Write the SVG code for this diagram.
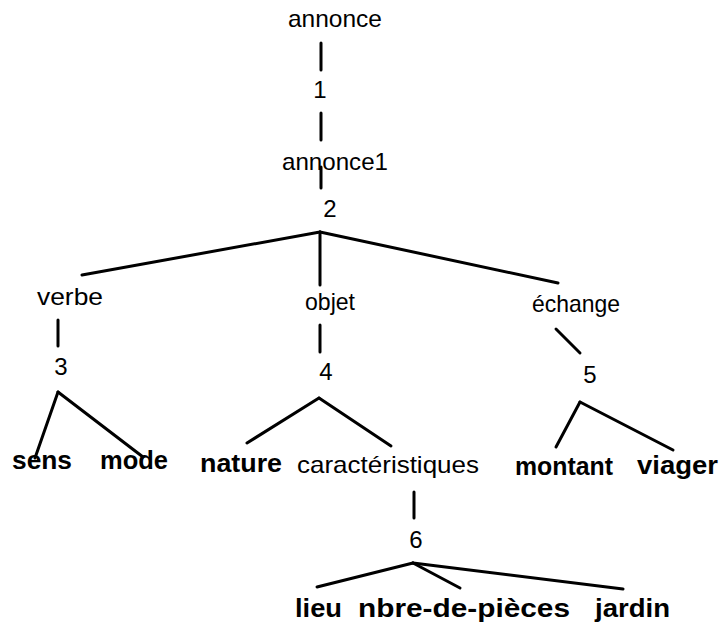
<svg xmlns="http://www.w3.org/2000/svg" width="722" height="628" viewBox="0 0 722 628">
<style>
text{font-family:"Liberation Sans",Arial,Helvetica,sans-serif;fill:#000;}
.n{font-size:24px;}
.b{font-size:25px;font-weight:bold;}
.d{font-size:24px;text-anchor:middle;}
#connectors line{stroke:#000;stroke-width:3;stroke-linecap:round;}
</style>
<rect width="722" height="628" fill="#fff"/>
<g id="connectors">
<line x1="321" y1="43" x2="321" y2="70"/>
<line x1="321" y1="113" x2="321" y2="140"/>
<line x1="321" y1="167" x2="321" y2="188"/>
<line x1="320" y1="232" x2="82" y2="275"/>
<line x1="320" y1="232" x2="320" y2="285"/>
<line x1="320" y1="232" x2="558" y2="283"/>
<line x1="58" y1="320" x2="58" y2="346"/>
<line x1="320" y1="325" x2="320" y2="352"/>
<line x1="556" y1="329" x2="580" y2="353"/>
<line x1="58" y1="392" x2="35" y2="458"/>
<line x1="58" y1="392" x2="143" y2="457"/>
<line x1="319" y1="398" x2="247" y2="443"/>
<line x1="319" y1="398" x2="391" y2="446"/>
<line x1="580" y1="402" x2="556" y2="447"/>
<line x1="580" y1="402" x2="673" y2="450"/>
<line x1="414" y1="492" x2="414" y2="518"/>
<line x1="413" y1="563" x2="317" y2="587"/>
<line x1="413" y1="563" x2="460" y2="588"/>
<line x1="413" y1="563" x2="623" y2="589"/>
</g>
<g id="annonce"><text class="n" x="288" y="27" textLength="94" lengthAdjust="spacingAndGlyphs">annonce</text></g>
<g id="r1"><text class="d" x="320" y="98">1</text></g>
<g id="annonce1"><text class="n" x="282" y="170" textLength="106" lengthAdjust="spacingAndGlyphs">annonce1</text></g>
<g id="r2"><text class="d" x="330" y="217">2</text></g>
<g id="verbe"><text class="n" x="37" y="305" textLength="66" lengthAdjust="spacingAndGlyphs">verbe</text></g>
<g id="objet"><text class="n" x="305" y="310" textLength="50" lengthAdjust="spacingAndGlyphs">objet</text></g>
<g id="echange"><text class="n" x="532" y="312" textLength="88" lengthAdjust="spacingAndGlyphs">échange</text></g>
<g id="r3"><text class="d" x="61" y="375">3</text></g>
<g id="r4"><text class="d" x="326" y="380">4</text></g>
<g id="r5"><text class="d" x="590" y="383">5</text></g>
<g id="sens"><text class="b" x="12" y="469" textLength="60" lengthAdjust="spacingAndGlyphs">sens</text></g>
<g id="mode"><text class="b" x="100" y="469" textLength="68" lengthAdjust="spacingAndGlyphs">mode</text></g>
<g id="nature"><text class="b" x="200" y="472" textLength="82" lengthAdjust="spacingAndGlyphs">nature</text></g>
<g id="caracteristiques"><text class="n" x="297" y="473" textLength="182" lengthAdjust="spacingAndGlyphs">caractéristiques</text></g>
<g id="montant"><text class="b" x="515" y="475" textLength="98" lengthAdjust="spacingAndGlyphs">montant</text></g>
<g id="viager"><text class="b" x="637" y="474" textLength="81" lengthAdjust="spacingAndGlyphs">viager</text></g>
<g id="r6"><text class="d" x="416" y="548">6</text></g>
<g id="lieu"><text class="b" x="295" y="617" textLength="47" lengthAdjust="spacingAndGlyphs">lieu</text></g>
<g id="nbre-de-pieces"><text class="b" x="358" y="617" textLength="212" lengthAdjust="spacingAndGlyphs">nbre-de-pièces</text></g>
<g id="jardin"><text class="b" x="595" y="617" textLength="75" lengthAdjust="spacingAndGlyphs">jardin</text></g>
</svg>
